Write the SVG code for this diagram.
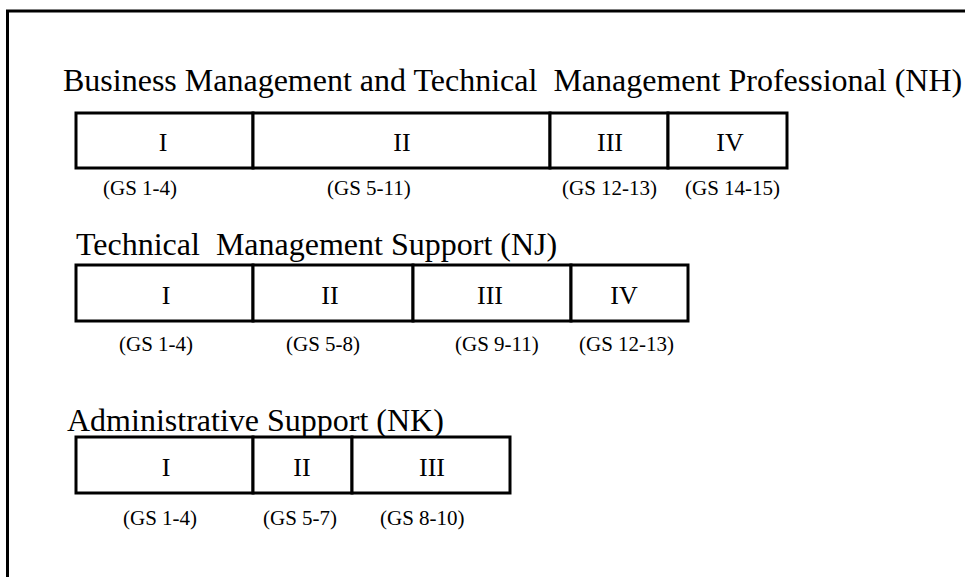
<svg xmlns="http://www.w3.org/2000/svg" width="965" height="577" viewBox="0 0 965 577">
<style>
text { font-family: "Liberation Serif", "Times New Roman", serif; fill: #000; }
.title { font-size: 32px; white-space: pre; }
.num { font-size: 26px; text-anchor: middle; }
.gs { font-size: 21px; }
.cell { fill: #fff; stroke: #000; stroke-width: 3; }
.frame { fill: none; stroke: #000; stroke-width: 3; }
</style>
<rect width="965" height="577" fill="#fff"/>
<path class="frame" d="M7.5,577 V11 H965"/>

<g id="row-nh">
  <text class="title" x="63" y="91" xml:space="preserve">Business Management and Technical  Management Professional (NH)</text>
  <g id="nh-1"><rect class="cell" x="76" y="113" width="177" height="55"/><text class="num" x="163" y="151">I</text><text class="gs" x="103" y="195">(GS 1-4)</text></g>
  <g id="nh-2"><rect class="cell" x="253" y="113" width="297" height="55"/><text class="num" x="402" y="151">II</text><text class="gs" x="327" y="195">(GS 5-11)</text></g>
  <g id="nh-3"><rect class="cell" x="550" y="113" width="118" height="55"/><text class="num" x="610" y="151">III</text><text class="gs" x="562" y="195">(GS 12-13)</text></g>
  <g id="nh-4"><rect class="cell" x="668" y="113" width="119" height="55"/><text class="num" x="730" y="151">IV</text><text class="gs" x="685" y="195">(GS 14-15)</text></g>
</g>

<g id="row-nj">
  <text class="title" x="76" y="255" xml:space="preserve">Technical  Management Support (NJ)</text>
  <g id="nj-1"><rect class="cell" x="76" y="265" width="177" height="56"/><text class="num" x="166" y="304">I</text><text class="gs" x="119" y="351">(GS 1-4)</text></g>
  <g id="nj-2"><rect class="cell" x="253" y="265" width="160" height="56"/><text class="num" x="330" y="304">II</text><text class="gs" x="286" y="351">(GS 5-8)</text></g>
  <g id="nj-3"><rect class="cell" x="413" y="265" width="158" height="56"/><text class="num" x="490" y="304">III</text><text class="gs" x="455" y="351">(GS 9-11)</text></g>
  <g id="nj-4"><rect class="cell" x="571" y="265" width="117" height="56"/><text class="num" x="624" y="304">IV</text><text class="gs" x="579" y="351">(GS 12-13)</text></g>
</g>

<g id="row-nk">
  <text class="title" x="67" y="431">Administrative Support (NK)</text>
  <g id="nk-1"><rect class="cell" x="76" y="437" width="177" height="56"/><text class="num" x="166" y="476">I</text><text class="gs" x="123" y="525">(GS 1-4)</text></g>
  <g id="nk-2"><rect class="cell" x="253" y="437" width="99" height="56"/><text class="num" x="302" y="476">II</text><text class="gs" x="263" y="525">(GS 5-7)</text></g>
  <g id="nk-3"><rect class="cell" x="352" y="437" width="158" height="56"/><text class="num" x="432" y="476">III</text><text class="gs" x="380" y="525">(GS 8-10)</text></g>
</g>

<g id="connectors"/>
</svg>
